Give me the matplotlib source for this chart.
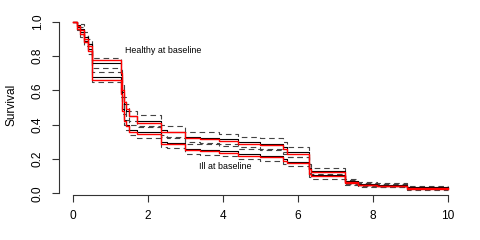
import matplotlib
matplotlib.use('Agg')
import matplotlib.pyplot as plt

plt.rcParams['font.family'] = ['Liberation Sans', 'DejaVu Sans']

# step times (years)
times = [0, 0.1, 0.2, 0.3, 0.4, 0.5, 1.28, 1.32, 1.36, 1.42, 1.5, 1.7, 2.35,
         2.5, 3.0, 3.4, 3.9, 4.4, 5.0, 5.6, 5.7, 6.3, 6.35, 7.25, 7.6, 8.1,
         8.9, 10]

# healthy at baseline
healthy_model = [1.0, 0.975, 0.95, 0.90, 0.86, 0.78, 0.70, 0.60, 0.53, 0.49,
                 0.45, 0.41, 0.36, 0.355, 0.32, 0.315, 0.305, 0.29, 0.28,
                 0.26, 0.23, 0.14, 0.125, 0.065, 0.048, 0.045, 0.03, 0.03]
healthy_km = [1.0, 0.98, 0.96, 0.91, 0.87, 0.76, 0.69, 0.59, 0.52, 0.48,
              0.45, 0.42, 0.37, 0.36, 0.33, 0.325, 0.315, 0.30, 0.29,
              0.27, 0.24, 0.145, 0.13, 0.07, 0.052, 0.048, 0.035, 0.035]
healthy_hi = [1.0, 0.995, 0.985, 0.94, 0.90, 0.79, 0.72, 0.63, 0.56, 0.52,
              0.48, 0.455, 0.40, 0.39, 0.36, 0.355, 0.345, 0.33, 0.32,
              0.30, 0.27, 0.17, 0.15, 0.085, 0.064, 0.058, 0.044, 0.044]
healthy_lo = [1.0, 0.96, 0.93, 0.88, 0.84, 0.73, 0.66, 0.56, 0.49, 0.45,
              0.42, 0.39, 0.34, 0.33, 0.30, 0.295, 0.285, 0.27, 0.26,
              0.24, 0.21, 0.12, 0.11, 0.057, 0.042, 0.038, 0.027, 0.027]

# ill at baseline
ill_model = [1.0, 0.96, 0.93, 0.88, 0.83, 0.66, 0.58, 0.48, 0.42, 0.39,
             0.36, 0.345, 0.29, 0.285, 0.25, 0.245, 0.235, 0.22, 0.21,
             0.19, 0.175, 0.11, 0.098, 0.06, 0.046, 0.04, 0.025, 0.025]
ill_km = [1.0, 0.97, 0.94, 0.89, 0.84, 0.68, 0.59, 0.49, 0.43, 0.40,
          0.37, 0.355, 0.30, 0.295, 0.26, 0.255, 0.245, 0.23, 0.22,
          0.20, 0.185, 0.115, 0.105, 0.063, 0.05, 0.043, 0.03, 0.03]
ill_hi = [1.0, 0.99, 0.97, 0.92, 0.87, 0.71, 0.62, 0.52, 0.46, 0.43,
          0.40, 0.385, 0.33, 0.325, 0.29, 0.285, 0.275, 0.26, 0.25,
          0.23, 0.21, 0.135, 0.125, 0.078, 0.062, 0.053, 0.039, 0.039]
ill_lo = [1.0, 0.95, 0.91, 0.86, 0.81, 0.65, 0.56, 0.46, 0.40, 0.37,
          0.34, 0.325, 0.27, 0.265, 0.23, 0.225, 0.215, 0.20, 0.19,
          0.17, 0.16, 0.095, 0.085, 0.05, 0.039, 0.034, 0.022, 0.022]

xticks = [0, 2, 4, 6, 8, 10]
yticks = [0.0, 0.2, 0.4, 0.6, 0.8, 1.0]

fig = plt.figure(figsize=(4.8, 2.4), dpi=100)
ax = fig.add_axes([59 / 480, 45 / 240, 404 / 480, 180 / 240])

dash = dict(color='#444444', lw=0.8, ls=(0, (5, 3.5)))
for lo, hi in [(healthy_lo, healthy_hi), (ill_lo, ill_hi)]:
    ax.step(times, lo, where='post', **dash)
    ax.step(times, hi, where='post', **dash)
for km in [healthy_km, ill_km]:
    ax.step(times, km, where='post', color='black', lw=0.8)
for m in [healthy_model, ill_model]:
    ax.step(times, m, where='post', color='red', lw=1.0)

ax.text(1.4, 0.835, 'Healthy at baseline', fontsize=6.4, va='center')
ax.text(3.35, 0.155, 'Ill at baseline', fontsize=6.4, va='center')

ax.set_xlim(-0.373, 10.4)
ax.set_ylim(-0.01, 1.04)
ax.set_xticks(xticks)
ax.set_xticklabels([str(v) for v in xticks])
ax.set_yticks(yticks)
ax.set_yticklabels(['%.1f' % v for v in yticks], rotation=90, va='center')
ax.set_ylabel('Survival', fontsize=8.6, labelpad=10)

for s in ['top', 'right']:
    ax.spines[s].set_visible(False)
ax.spines['bottom'].set_bounds(0, 10)
ax.spines['left'].set_bounds(0, 1)
for s in ['bottom', 'left']:
    ax.spines[s].set_linewidth(0.8)
    ax.spines[s].set_color('#333333')
ax.tick_params(length=5, width=0.8, labelsize=8.6, pad=6, color='#333333')

fig.savefig('out.png', dpi=100)
